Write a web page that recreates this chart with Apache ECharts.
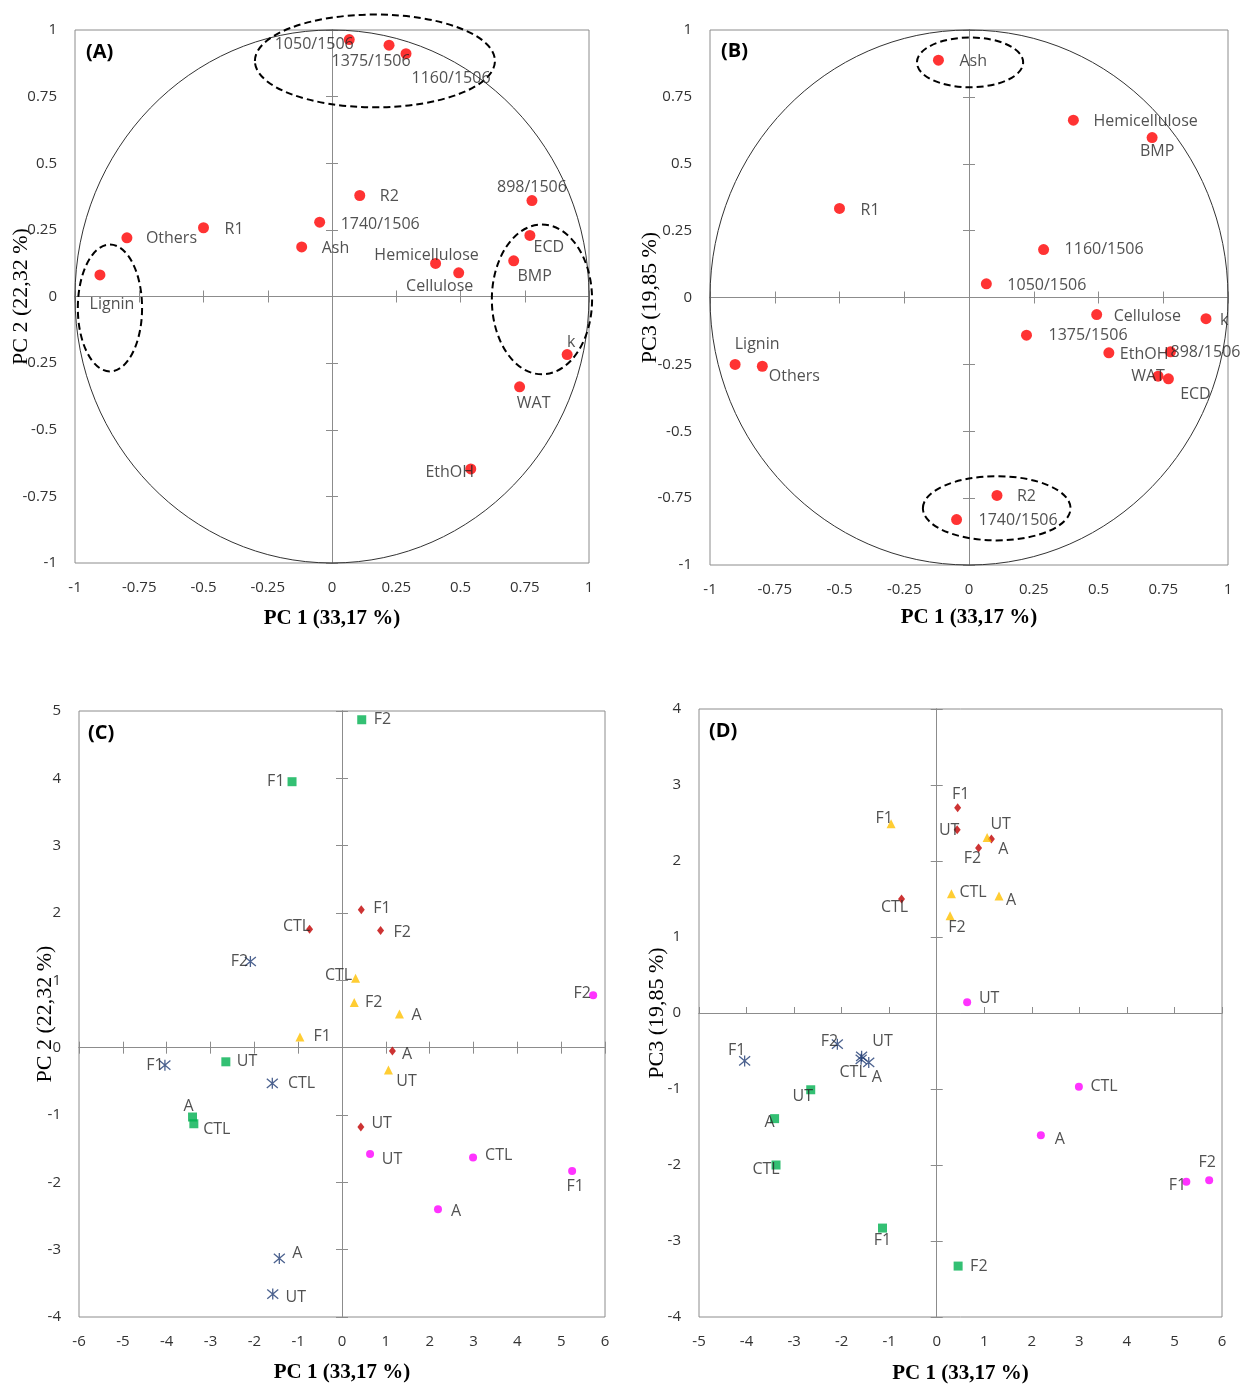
<!DOCTYPE html>
<html><head><meta charset="utf-8">
<script src="https://cdn.jsdelivr.net/npm/echarts@6/dist/echarts.min.js"></script>
<style>html,body{margin:0;padding:0;background:#fff}#chart{width:1240px;height:1385px}</style>
</head><body><div id="chart"></div>
<script>
// ---------- DATA ----------
const variables = ['1050/1506','1375/1506','1160/1506','R2','1740/1506','Ash','R1','Others','Lignin','Hemicellulose','Cellulose','BMP','ECD','898/1506','k','WAT','EthOH'];
const loadPC1 = [0.067, 0.222, 0.288, 0.108, -0.048, -0.118, -0.500, -0.798, -0.903, 0.403, 0.493, 0.707, 0.770, 0.778, 0.915, 0.730, 0.540];
const loadPC2 = [0.964, 0.943, 0.911, 0.379, 0.279, 0.186, 0.258, 0.220, 0.081, 0.124, 0.089, 0.134, 0.229, 0.360, -0.218, -0.339, -0.647];
const loadPC3 = [0.051, -0.141, 0.179, -0.740, -0.830, 0.887, 0.333, -0.257, -0.250, 0.663, -0.064, 0.598, -0.304, -0.203, -0.079, -0.294, -0.207];

const samples = ['UT','CTL','A','F1','F2'];
const greenPC1 = [-2.65, -3.38, -3.41, -1.14, 0.45];
const greenPC2 = [-0.21, -1.13, -1.03, 3.95, 4.87];
const greenPC3 = [-1.01, -2.00, -1.39, -2.83, -3.33];
const redPC1 = [0.43, -0.74, 1.15, 0.44, 0.88];
const redPC2 = [-1.18, 1.76, -0.05, 2.05, 1.74];
const redPC3 = [2.41, 1.50, 2.29, 2.70, 2.17];
const orangePC1 = [1.06, 0.31, 1.31, -0.96, 0.28];
const orangePC2 = [-0.33, 1.03, 0.50, 0.16, 0.67];
const orangePC3 = [2.31, 1.57, 1.54, 2.49, 1.28];
const bluePC1 = [-1.58, -1.59, -1.43, -4.04, -2.09];
const bluePC2 = [-3.66, -0.53, -3.13, -0.26, 1.28];
const bluePC3 = [-0.57, -0.61, -0.65, -0.63, -0.41];
const magentaPC1 = [0.64, 2.99, 2.19, 5.25, 5.73];
const magentaPC2 = [-1.58, -1.63, -2.40, -1.83, 0.78];
const magentaPC3 = [0.14, -0.97, -1.61, -2.22, -2.20];

// correlation circle and highlighted groups (cx, cy, rx, ry in data units)
const unitCircle = [[0, 0, 1, 1]];
const ellipsesA = [[0.167, 0.884, 0.467, 0.174], [-0.864, -0.043, 0.125, 0.238], [0.817, -0.011, 0.195, 0.281]];
const ellipsesB = [[0.004, 0.879, 0.205, 0.093], [0.107, -0.788, 0.285, 0.120]];

// ---------- LABEL PLACEMENT (pixels) ----------
const labA = {'1050/1506':['c',-35,5],'1375/1506':['c',-18,16],'1160/1506':['c',45,25],'R2':['r',20,1],'1740/1506':['r',21,2],'Ash':['r',20,2],'R1':['r',21,2],'Others':['r',19,1],'Lignin':['c',12,30],'Hemicellulose':['c',-9,-8],'Cellulose':['c',-19,14],'BMP':['c',21,16],'ECD':['c',19,12],'898/1506':['c',0,-13],'k':['c',4,-12],'WAT':['c',14,17],'EthOH':['c',-21,4]};
const labB = {'Ash':['r',21,1],'Hemicellulose':['r',20,1],'BMP':['c',5,14],'R1':['r',21,2],'1160/1506':['r',21,0],'1050/1506':['r',21,2],'Cellulose':['r',17,2],'k':['r',14,2],'1375/1506':['r',22,0],'EthOH':['r',11,2],'898/1506':['c',35,1],'WAT':['c',-10,0],'ECD':['c',27,16],'Lignin':['c',22,-20],'Others':['c',32,10],'R2':['r',20,1],'1740/1506':['r',22,1]};
const labC = {
  green:{UT:['r',11,0],CTL:['c',23,6],A:['c',-4,-11],F1:['l',7.5,0],F2:['r',12,0]},
  red:{UT:['r',10.6,-4],CTL:['c',-13,-3],A:['r',9.5,3],F1:['r',12,-1],F2:['r',13,2]},
  orange:{UT:['c',18,12],CTL:['c',-17,-3],A:['r',12,1],F1:['r',13.6,0],F2:['r',10.7,0]},
  blue:{UT:['c',23,3],CTL:['r',15,0],A:['c',18,-5],F1:['c',-10,0],F2:['c',-11,0]},
  magenta:{UT:['c',22,5],CTL:['r',12,-2],A:['c',18,2],F1:['c',3,16],F2:['c',-11,-2]}
};
const labD = {
  green:{UT:['c',-8,7],CTL:['c',-10,4],A:['c',-5,4],F1:['c',0,12],F2:['r',12,0]},
  red:{UT:['c',-8,1],CTL:['c',-7,8],A:['c',12,10],F1:['c',3,-13],F2:['c',-6,10]},
  orange:{UT:['c',13.5,-13],CTL:['r',8,-1],A:['c',12,4],F1:['c',-7,-5],F2:['c',7,12]},
  blue:{UT:['c',21,-15],CTL:['c',-8,13],A:['c',8,15],F1:['c',-8,-10],F2:['c',-8,-3]},
  magenta:{UT:['c',22,-4],CTL:['r',11.5,0],A:['c',19,4],F1:['c',-9,4],F2:['c',-2,-18]}
};

// ---------- STYLE / LAYOUT ----------
const FONT = 'Open Sans';
const AXIS_GRAY = '#8c8c8c';
const grids = [
  {left:75, top:30, width:514, height:533},
  {left:710, top:30, width:518, height:535},
  {left:79, top:711, width:526, height:606},
  {left:699, top:709, width:523, height:609}
];
const panels = [
  {x:[-1,1,0.25], y:[-1,1,0.25], xName:'PC 1 (33,17 %)', yName:'PC 2 (22,32 %)', xGap:45, yGap:43, downTicks:true},
  {x:[-1,1,0.25], y:[-1,1,0.25], xName:'PC 1 (33,17 %)', yName:'PC3 (19,85 %)', xGap:42, yGap:49, downTicks:true},
  {x:[-6,6,1], y:[-4,5,1], xName:'PC 1 (33,17 %)', yName:'PC 2 (22,32 %)', xGap:45, yGap:23, downTicks:true},
  {x:[-5,6,1], y:[-4,4,1], xName:'PC 1 (33,17 %)', yName:'PC3 (19,85 %)', xGap:46, yGap:31, downTicks:false}
];
const groupStyles = {
  green:{color:'#00B050', symbol:'rect', size:9},
  red:{color:'#C00000', symbol:'diamond', size:[7,9]},
  orange:{color:'#FFC000', symbol:'triangle', size:9},
  blue:{color:'#1F3B73', symbol:'path://M0,0 L10,10 M10,0 L0,10 M5,-1 L5,11', size:11, stroke:true},
  magenta:{color:'#FF00FF', symbol:'circle', size:8}
};

const xAxes = [], yAxes = [];
const xNameStyle = {fontFamily:'Liberation Serif', fontWeight:'bold', fontSize:21, color:'#000'};
const yNameStyle = {fontFamily:'Liberation Serif', fontWeight:'normal', fontSize:22, color:'#000'};
panels.forEach((p, g) => {
  const base = (r) => ({gridIndex:g, type:'value', min:r[0], max:r[1], interval:r[2], splitLine:{show:false}});
  const zeroLine = {show:true, onZero:true, onZeroAxisIndex:3*g, lineStyle:{color:AXIS_GRAY, width:1}};
  // x axes: labels at the bottom, plus a zero line with ticks crossing it
  xAxes.push(Object.assign(base(p.x), {position:'bottom', axisLine:{show:false, onZero:false}, axisTick:{show:false},
    axisLabel:{fontFamily:FONT, fontSize:15, color:'#333', margin:17},
    name:p.xName, nameLocation:'middle', nameGap:p.xGap, nameMoveOverlap:false, nameTextStyle:xNameStyle}));
  xAxes.push(Object.assign(base(p.x), {position:'bottom', axisLine:zeroLine, axisTick:{show:true, inside:true, length:6, lineStyle:{color:AXIS_GRAY}}, axisLabel:{show:false}}));
  xAxes.push(Object.assign(base(p.x), {position:'bottom', axisLine:zeroLine, axisTick:{show:p.downTicks, inside:false, length:6, lineStyle:{color:AXIS_GRAY}}, axisLabel:{show:false}}));
  // y axes
  yAxes.push(Object.assign(base(p.y), {position:'left', axisLine:{show:false, onZero:false}, axisTick:{show:false},
    axisLabel:{fontFamily:FONT, fontSize:15, color:'#333', margin:18},
    name:p.yName, nameLocation:'middle', nameGap:p.yGap, nameMoveOverlap:false, nameTextStyle:yNameStyle}));
  yAxes.push(Object.assign(base(p.y), {position:'left', axisLine:zeroLine, axisTick:{show:true, inside:true, length:6, lineStyle:{color:AXIS_GRAY}}, axisLabel:{show:false}}));
  yAxes.push(Object.assign(base(p.y), {position:'left', axisLine:zeroLine, axisTick:{show:true, inside:false, length:6, lineStyle:{color:AXIS_GRAY}}, axisLabel:{show:false}}));
});

function lbl(spec, r) {
  const [p, a, b] = spec;
  if (p === 'r') return {position:'right', distance:a - r, offset:[0, b]};
  if (p === 'l') return {position:'left', distance:a - r, offset:[0, b]};
  return {position:'inside', offset:[a, b]};
}
const labelBase = {show:true, formatter:'{b}', fontFamily:FONT, fontSize:16, color:'#262626'};

function ellipseSeries(g, data, dashed) {
  return {
    type:'custom', xAxisIndex:3*g, yAxisIndex:3*g, clip:false, silent:true, z:1,
    data:data,
    renderItem:(params, api) => {
      const c = api.coord([api.value(0), api.value(1)]);
      const s = api.size([api.value(2), api.value(3)]);
      return {type:'ellipse', shape:{cx:c[0], cy:c[1], rx:s[0], ry:s[1]},
        style:{fill:'none', stroke:dashed ? '#000' : '#333', lineWidth:dashed ? 2 : 1, lineDash:dashed ? [7, 4] : null}};
    }
  };
}

const series = [];
// Panels A & B: variable loadings
[[0, loadPC2, labA, ellipsesA], [1, loadPC3, labB, ellipsesB]].forEach(([g, ys, labs, ells]) => {
  series.push(ellipseSeries(g, unitCircle, false));
  series.push(ellipseSeries(g, ells, true));
  series.push({
    type:'scatter', xAxisIndex:3*g, yAxisIndex:3*g, symbol:'circle', symbolSize:11, z:3,
    itemStyle:{color:'#FF0000'},
    label:labelBase,
    data:variables.map((v, i) => ({name:v, value:[loadPC1[i], ys[i]], label:lbl(labs[v], 5.5)}))
  });
});
// Panels C & D: sample scores
const scoreGroups = [
  ['green', greenPC1, greenPC2, greenPC3],
  ['red', redPC1, redPC2, redPC3],
  ['orange', orangePC1, orangePC2, orangePC3],
  ['blue', bluePC1, bluePC2, bluePC3],
  ['magenta', magentaPC1, magentaPC2, magentaPC3]
];
[[2, 2, labC], [3, 3, labD]].forEach(([g, pcIdx, labs]) => {
  scoreGroups.forEach(gr => {
    const key = gr[0], st = groupStyles[key];
    const ys = gr[pcIdx];
    const half = Array.isArray(st.size) ? st.size[0] / 2 : st.size / 2;
    series.push({
      type:'scatter', xAxisIndex:3*g, yAxisIndex:3*g, symbol:st.symbol, symbolSize:st.size, z:3,
      itemStyle: st.stroke ? {color:'transparent', borderColor:st.color, borderWidth:1.3} : {color:st.color},
      label:labelBase,
      data:samples.map((s, i) => ({name:s, value:[gr[1][i], ys[i]], label:lbl(labs[key][s], half)}))
    });
  });
});

const panelTitles = [['(A)', 86, 42], ['(B)', 721, 41], ['(C)', 88, 723], ['(D)', 709, 721]];

const chart = echarts.init(document.getElementById('chart'));
chart.setOption({
  animation:false,
  backgroundColor:'#fff',
  title:panelTitles.map(t => ({text:t[0], left:t[1], top:t[2], padding:0,
    textStyle:{fontFamily:FONT, fontWeight:'bold', fontSize:20, color:'#000'}})),
  grid:grids.map(gd => Object.assign({show:true, borderColor:AXIS_GRAY, borderWidth:1, backgroundColor:'transparent'}, gd)),
  xAxis:xAxes,
  yAxis:yAxes,
  series:series
});
</script></body></html>
